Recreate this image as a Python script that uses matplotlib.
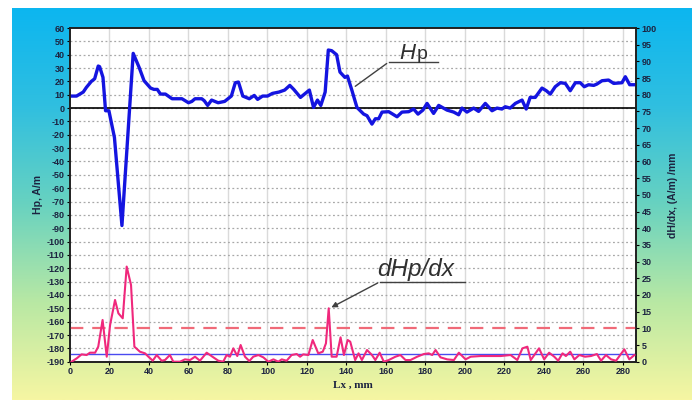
# Hp and dHp/dx along the scan length

import numpy as np
import matplotlib
matplotlib.use('Agg')
import matplotlib.pyplot as plt
from matplotlib.colors import LinearSegmentedColormap

# Hp, A/m (left axis)
hp_x = [0, 3.3, 6.7, 8.3, 10.8, 12.5, 14.3, 15, 16.7, 18, 19.7, 22.5, 26.3, 32,
        35, 37.5, 40.8, 42.5, 44.2, 45.8, 48.3, 51.7, 56.7, 60, 61.7, 63.3, 66.7, 68,
        69.7, 71.7, 75, 78.3, 81.7, 83.7, 85.3, 87.5, 90.8, 93.3, 95, 97.5, 100,
        102.5, 105.8, 108.7, 111.3, 113.3, 116.7, 121.2, 123.3, 125.3, 127, 129.2,
        130.8, 132.5, 135, 136.7, 139.2, 140.5, 142.8, 145.3, 148.7, 150.4, 152.9,
        154.6, 156.3, 158, 161.4, 165.6, 168.1, 171.5, 174, 176.2, 178.7, 180.8,
        184.1, 186.7, 190.9, 194.3, 196.8, 198.5, 201, 204.4, 206.9, 210.3, 213.7,
        216.2, 218.7, 220.4, 222.9, 225.5, 228.9, 231, 233, 235.6, 239, 241.2,
        243.2, 245.7, 248.3, 250.8, 253.3, 255.9, 258.4, 260.4, 262.6, 265.2,
        266.8, 269.4, 272.7, 275.3, 279.5, 281.2, 283.4, 286.2]
hp_y = [9, 9, 12, 15.5, 20, 22, 31.5, 31, 23, -2, -2, -22, -88, 41,
        30.5, 20.5, 15, 14, 14, 10.5, 10.5, 7, 7, 4, 5, 7, 7, 5.5,
        2, 6, 4, 5, 9, 19, 19.5, 9, 7, 9.5, 6.5, 9, 9,
        11, 12, 13.5, 17, 14, 8, 13.5, 0.5, 6, 2, 12,
        43.5, 43, 40, 27, 23, 24, 13, 0.5, -4.5, -5.7, -12,
        -8, -8, -3, -2.7, -6.5, -3, -2.7, -0.7, -4.5, -1.5, 3.5,
        -4, 2, -1.5, -3, -5, 0, -3, 0, -2.5, 3.5, -2,
        0, -0.7, 1, 0, 3.5, 6, -0.7, 8, 8, 15, 13,
        10.5, 16, 19, 18.5, 13, 19, 19, 16, 17.5, 17,
        18, 20.5, 21, 18.5, 19, 23.5, 17.5, 17.5]

# dHp/dx, (A/m)/mm (right axis)
dh_x = [0.8, 3.4, 5.9, 8.4, 10.1, 12.7, 14.3, 16.5, 18.6, 20.3, 22.8, 24.5, 26.7,
        28.7, 30.9, 32.6, 35.4, 38, 39.7, 41.9, 43.9, 46.4, 48.1, 50.6, 52.3, 55.7,
        58.2, 60.8, 63.3, 65.8, 69.2, 72.6, 75.1, 77.6, 79.3, 81, 82.7, 84.7, 86.4,
        88.6, 90.8, 92.8, 95.4, 97.9, 100.4, 103, 105.5, 107.2, 109.7, 112.2, 114.8,
        116.5, 118.1, 120.7, 122.9, 125.7, 128, 129.6, 131, 132.5, 135, 137, 138.7,
        140.6, 141.9, 144.4, 146.1, 147.8, 150.4, 152.9, 154.6, 156.8, 158.9, 161.4,
        164.8, 167.3, 169.9, 172.4, 175.8, 179.2, 181.7, 183.4, 185.1, 187.6, 191,
        194.4, 196.9, 200.3, 202.9, 207.9, 213, 218.1, 223.1, 226.5, 229.1, 231.6,
        233.3, 237.5, 240.1, 242.6, 245.2, 247.2, 249.4, 251.1, 253.3, 255.4, 257.9,
        260.8, 263.8, 266.8, 268.9, 271.4, 274, 276.5, 280.7, 283.2, 285.8]
dh_y = [0, 1, 2.2, 2, 2.7, 2.7, 4.5, 12.5, 1.5, 11, 18.5, 14.5, 13,
        28.5, 23, 4.5, 3, 2.5, 1.5, 0.3, 2, 0.3, 0.5, 2, 0, 0,
        0.7, 0.5, 1.5, 0.3, 2.7, 1.3, 0.3, 0, 2, 1.5, 4, 1.7, 5,
        1.5, 0.2, 1.5, 2, 1.3, 0, 0.7, 0, 0.7, 0.3, 2, 2.3,
        1.5, 2.2, 2, 6.5, 2.5, 3, 5.5, 16, 1.5, 1.5, 7.3, 2,
        6.5, 6, 0.5, 2.5, 0.5, 3.5, 2, 0.5, 2.7, 0, 0.5,
        1.5, 2, 0.5, 0.5, 1.5, 2.3, 2.5, 2, 3.5, 1.3, 0.7,
        0.5, 2.7, 0.7, 1.5, 1.7, 1.7, 1.7, 2, 0.5, 4, 4.5,
        0.5, 4, 0.7, 2.7, 1.5, 0.3, 2.5, 1.7, 3, 0.7, 2,
        1.5, 1.7, 2.3, 0.3, 2, 0.7, 0.3, 3.7, 0.7, 2]

threshold = 10     # red dashed level, (A/m)/mm
mean_level = 2.2   # blue thin level, (A/m)/mm

x_ticks = list(range(0, 281, 20))
left_ticks = list(range(-190, 61, 10))
right_ticks = list(range(0, 101, 5))

W, H = 697, 403
fig = plt.figure(figsize=(W / 100, H / 100), dpi=100)
fig.patch.set_facecolor('white')

# gradient panel behind the chart
bg = fig.add_axes([12 / W, 1 - 400 / H, (692 - 12) / W, (400 - 8) / H])
grad = LinearSegmentedColormap.from_list('bg', ['#0cb6f0', '#30bfe0', '#68d2c0',
                                               '#b8e8a4', '#f6f6a2'])
bg.imshow(np.linspace(0, 1, 256).reshape(-1, 1), cmap=grad, aspect='auto',
          extent=[0, 1, 0, 1])
bg.axis('off')

ax = fig.add_axes([70 / W, 1 - 361.7 / H, (636 - 70) / W, (361.7 - 28) / H])
ax.set_facecolor('white')
ax.set_xlim(0, 286.6)
ax.set_ylim(-190, 60)

tick_font = dict(family='Liberation Sans', weight='bold', size=6.5)
lab_col = '#1c2340'

ax.set_xticks(x_ticks)
ax.set_yticks(left_ticks)
ax.set_xticklabels([str(v) for v in x_ticks], color=lab_col, **tick_font)
ax.set_yticklabels([str(v) for v in left_ticks], color=lab_col, **tick_font)
ax.tick_params(length=2, width=0.8, pad=2)

for v in x_ticks[1:]:
    ax.axvline(v, color='#dadada', lw=1, zorder=0)
for v in left_ticks[1:-1]:
    ax.axhline(v, color='#a8a8a8', lw=0.9, ls=(0, (1.5, 2)), zorder=0)

ax.axhline(0, color='black', lw=1.2, zorder=2)

ax2 = ax.twinx()
ax2.set_ylim(0, 100)
ax2.set_yticks(right_ticks)
ax2.set_yticklabels([str(v) for v in right_ticks], color=lab_col, **tick_font)
ax2.tick_params(length=2, width=0.8, pad=2)

ax2.axhline(threshold, color='#f06a78', lw=1.6, ls=(0, (6, 4)), zorder=2)
ax2.axhline(mean_level, color='#4a4af0', lw=1.0, zorder=2)
ax2.plot(dh_x, dh_y, color='#f0287c', lw=1.5, zorder=3)
ax.plot(hp_x, hp_y, color='#1414e0', lw=2.4, zorder=4)

for a in (ax, ax2):
    for s in a.spines.values():
        s.set_color('#202020')
        s.set_linewidth(1.2)

ax.set_ylabel('Hp, A/m', color=lab_col, family='Liberation Sans', weight='bold',
              size=7.5, labelpad=2)
ax2.set_ylabel('dH/dx, (A/m) /mm', color=lab_col, family='Liberation Sans',
               weight='bold', size=7.5, rotation=90, labelpad=8)
ax.set_xlabel('Lx , mm', color=lab_col, family='Liberation Serif', weight='bold',
              size=8, labelpad=3)

# callouts
ax.plot([161.5, 186.3], [34.6, 34.6], color='#404040', lw=1)
ax.annotate('', xy=(143.3, 15.1), xytext=(161.5, 34.6),
            arrowprops=dict(arrowstyle='-', color='#404040', lw=1))
ax.text(167, 36.5, 'H', style='italic', family='Liberation Sans', size=16,
        color='#303030', va='baseline')
ax.text(175.3, 36.5, 'p', family='Liberation Sans', size=14, color='#303030',
        va='baseline')

ax.plot([157, 200], [-130.1, -130.1], color='#404040', lw=1)
ax.annotate('', xy=(131.1, -150.3), xytext=(157, -130.1),
            arrowprops=dict(arrowstyle='-|>', color='#404040', lw=1,
                            mutation_scale=8))
ax.text(155.4, -125.6, 'dHp/dx', style='italic', family='Liberation Sans',
        size=17.5, color='#303030', va='baseline')

plt.savefig('out.png', dpi=100)
